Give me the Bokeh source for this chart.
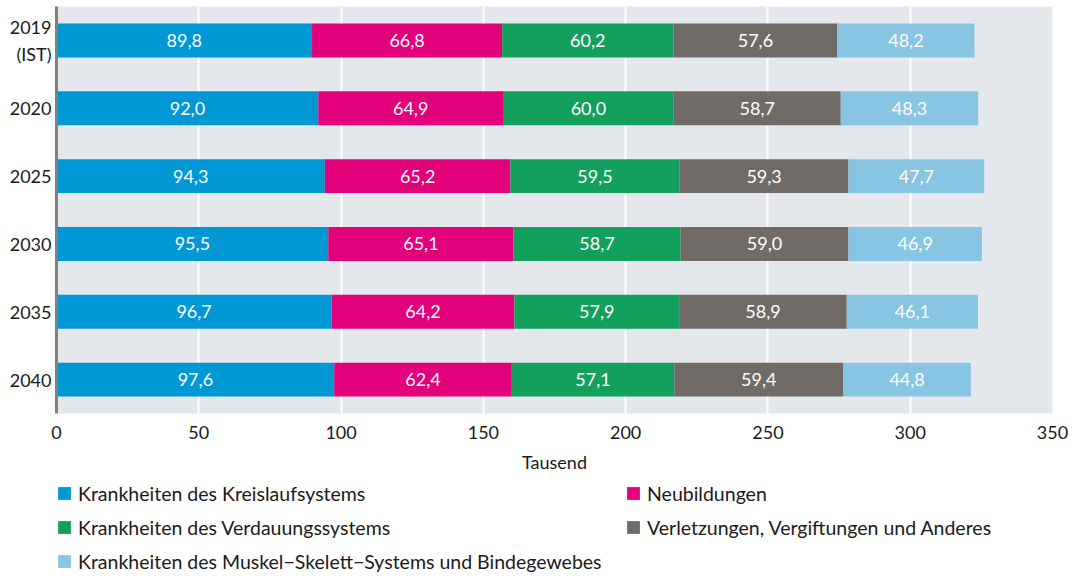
from bokeh.plotting import figure
from bokeh.layouts import column
from bokeh.models import ColumnDataSource, Legend, LegendItem, SingleIntervalTicker, Range1d
from bokeh.core.properties import value
from bokeh.embed import file_html
from bokeh.resources import INLINE

years = ["2019\n(IST)", "2020", "2025", "2030", "2035", "2040"]
kreislauf = [89.8, 92.0, 94.3, 95.5, 96.7, 97.6]
neubildungen = [66.8, 64.9, 65.2, 65.1, 64.2, 62.4]
verdauung = [60.2, 60.0, 59.5, 58.7, 57.9, 57.1]
verletzungen = [57.6, 58.7, 59.3, 59.0, 58.9, 59.4]
muskel = [48.2, 48.3, 47.7, 46.9, 46.1, 44.8]

series_names = [
    "Krankheiten des Kreislaufsystems",
    "Neubildungen",
    "Krankheiten des Verdauungssystems",
    "Verletzungen, Vergiftungen und Anderes",
    "Krankheiten des Muskel\u2212Skelett\u2212Systems und Bindegewebes",
]
colors = ["#0098d4", "#e3007b", "#12a05c", "#706b66", "#87c5e3"]
FONT = "Lato"

keys = ["s0", "s1", "s2", "s3", "s4"]
series = [kreislauf, neubildungen, verdauung, verletzungen, muskel]
data = {"year": years}
for k, s in zip(keys, series):
    data[k] = s
source = ColumnDataSource(data)

p = figure(
    y_range=list(reversed(years)),
    frame_width=996, frame_height=407,
    output_backend="svg", toolbar_location=None,
    min_border_left=56, min_border_right=20, min_border_top=6, min_border_bottom=64,
)
p.x_range = Range1d(0, 350)
p.background_fill_color = "#e4e8ec"
p.border_fill_color = "white"
p.outline_line_color = None

renderers = p.hbar_stack(keys, y="year", height=0.5, color=colors, source=source, line_color=None)

# value labels
for i, k in enumerate(keys):
    centers = []
    for row in range(len(years)):
        left = sum(series[j][row] for j in range(i))
        centers.append(left + series[i][row] / 2)
    lab = [f"{v:.1f}".replace(".", ",") for v in series[i]]
    src = ColumnDataSource(dict(x=centers, y=years, t=lab))
    p.text(x="x", y="y", text="t", source=src, text_color="white",
           text_align="center", text_baseline="middle",
           text_font=value(FONT), text_font_size="18px")

p.xaxis.ticker = SingleIntervalTicker(interval=50)
p.xaxis.axis_line_color = None
p.xaxis.major_tick_line_color = None
p.xaxis.minor_tick_line_color = None
p.xaxis.major_tick_out = 0
p.xaxis.major_label_text_font = FONT
p.xaxis.major_label_text_font_size = "18px"
p.xaxis.major_label_text_color = "#1a1a1a"
p.xaxis.major_label_standoff = 8
p.xaxis.axis_label = "Tausend"
p.xaxis.axis_label_text_font = FONT
p.xaxis.axis_label_text_font_size = "18px"
p.xaxis.axis_label_text_font_style = "normal"
p.xaxis.axis_label_text_color = "#1a1a1a"
p.xaxis.axis_label_standoff = 9

p.yaxis.axis_line_color = "#808080"
p.yaxis.axis_line_width = 3
p.yaxis.major_tick_line_color = None
p.yaxis.minor_tick_line_color = None
p.yaxis.major_tick_out = 0
p.yaxis.major_label_text_font = FONT
p.yaxis.major_label_text_font_size = "18px"
p.yaxis.major_label_text_color = "#1a1a1a"
p.yaxis.major_label_standoff = 5

p.ygrid.grid_line_color = None
p.xgrid.grid_line_color = "white"
p.xgrid.grid_line_width = 2

# legend panel (separate figure so the legend is not clipped)
p2 = figure(frame_width=996, frame_height=100, output_backend="svg", toolbar_location=None,
            min_border_left=56, min_border_right=20, min_border_top=0, min_border_bottom=0,
            x_range=Range1d(0, 1), y_range=Range1d(0, 1))
p2.axis.visible = False
p2.grid.grid_line_color = None
p2.outline_line_color = None
# off-screen proxy glyphs, used only for the legend swatches
dummy = [p2.hbar(y=[-5], right=[-5], left=[-6], height=1, color=c, line_color=None) for c in colors]
items = [LegendItem(label=n, renderers=[r], index=0) for n, r in zip(series_names, dummy)]
legend = Legend(items=items, orientation="horizontal", ncols=2, location="top_left",
                border_line_color=None, background_fill_alpha=0,
                label_text_font=FONT, label_text_font_size="19.5px", label_text_color="#1a1a1a",
                glyph_width=16, glyph_height=16, label_standoff=6, spacing=2,
                label_width=545, label_height=32, padding=0, margin=0)
p2.add_layout(legend, "center")

layout = column(p, p2, spacing=0)
open("out.html", "w").write(file_html(layout, INLINE))
